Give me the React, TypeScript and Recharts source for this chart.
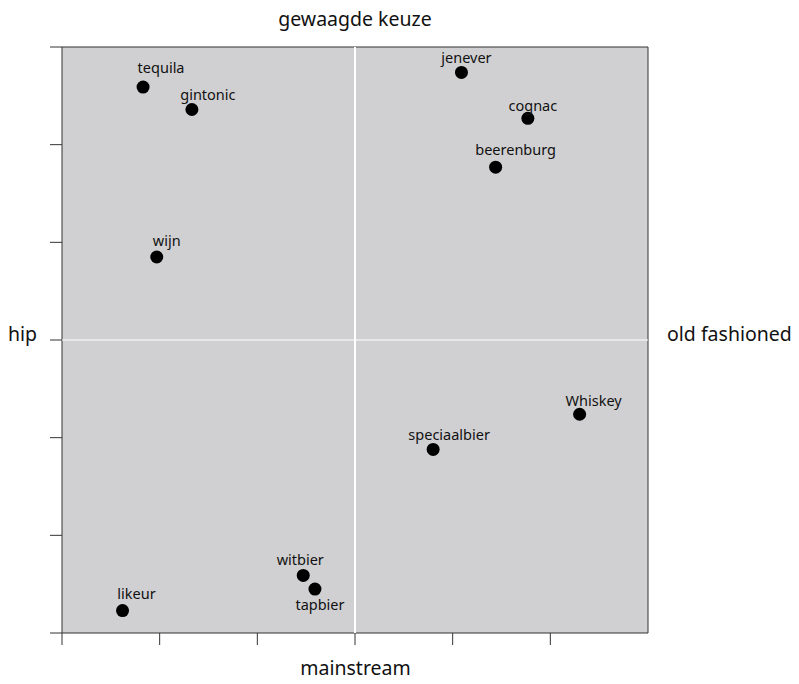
import React from 'react';
import { ScatterChart, Scatter, XAxis, YAxis, ReferenceArea, ReferenceLine } from 'recharts';

const names = ['tequila', 'gintonic', 'wijn', 'likeur', 'witbier', 'tapbier', 'speciaalbier', 'Whiskey', 'jenever', 'cognac', 'beerenburg'];
const xValues = [-2.17, -1.67, -2.03, -2.38, -0.53, -0.41, 0.8, 2.3, 1.09, 1.77, 1.44];
const yValues = [2.59, 2.36, 0.85, -2.77, -2.41, -2.55, -1.12, -0.76, 2.74, 2.27, 1.77];
const xTicks = [-3, -2, -1, 0, 1, 2];
const yTicks = [-3, -2, -1, 0, 1, 2, 3];
const axisTitles = { top: 'gewaagde keuze', bottom: 'mainstream', left: 'hip', right: 'old fashioned' };

const data = names.map((name, i) => ({ name, x: xValues[i], y: yValues[i] }));

// label offsets (label centre relative to dot, baseline relative to dot centre)
const labelOffsets: Record<string, [number, number]> = {
  tequila: [18, -14],
  gintonic: [16, -10],
  wijn: [10, -11],
  likeur: [14, -12],
  witbier: [-3, -10],
  tapbier: [5, 21],
  speciaalbier: [16, -9],
  Whiskey: [14, -8],
  jenever: [5, -9],
  cognac: [5, -7],
  beerenburg: [20, -12],
};

const FONT = '"Noto Sans", "DejaVu Sans", sans-serif';

const Dot = (props: any) => {
  const { cx, cy, payload } = props;
  const off = labelOffsets[payload.name] || [0, -10];
  return (
    <g>
      <circle cx={cx} cy={cy} r={6.5} fill="#000" />
      <text x={cx + off[0]} y={cy + off[1]} textAnchor="middle" fontSize={14.5} fontFamily={FONT} fill="#111">
        {payload.name}
      </text>
    </g>
  );
};

const titleStyle: React.CSSProperties = {
  position: 'absolute',
  fontFamily: FONT,
  fontSize: 19.5,
  color: '#111',
  whiteSpace: 'nowrap',
  lineHeight: '1',
};

export default function App() {
  return (
    <div style={{ position: 'absolute', left: 0, top: 0, width: 799, height: 684, background: '#fff' }}>
      <ScatterChart width={799} height={684} margin={{ top: 47, right: 151, bottom: 39, left: 50 }}>
        <XAxis
          type="number"
          dataKey="x"
          domain={[-3, 3]}
          ticks={xTicks}
          tickSize={12}
          height={12}
          axisLine={false}
          tickLine={{ stroke: '#333' }}
          tickFormatter={() => ''}
        />
        <YAxis
          type="number"
          dataKey="y"
          domain={[-3, 3]}
          ticks={yTicks}
          tickSize={12}
          width={12}
          axisLine={false}
          tickLine={{ stroke: '#333' }}
          tickFormatter={() => ''}
        />
        <ReferenceArea x1={-3} x2={3} y1={-3} y2={3} fill="#d0d0d2" fillOpacity={1} stroke="#333" strokeWidth={1} />
        <ReferenceLine x={0} stroke="#fff" strokeWidth={2} />
        <ReferenceLine y={0} stroke="#fff" strokeWidth={1} />
        <Scatter data={data} shape={<Dot />} isAnimationActive={false} />
      </ScatterChart>
      <div style={{ ...titleStyle, left: 0, width: 710, top: 9, textAlign: 'center' }}>{axisTitles.top}</div>
      <div style={{ ...titleStyle, left: 0, width: 711, top: 657.5, textAlign: 'center' }}>{axisTitles.bottom}</div>
      <div style={{ ...titleStyle, left: 8, top: 323.5 }}>{axisTitles.left}</div>
      <div style={{ ...titleStyle, left: 667, top: 323.5 }}>{axisTitles.right}</div>
    </div>
  );
}
